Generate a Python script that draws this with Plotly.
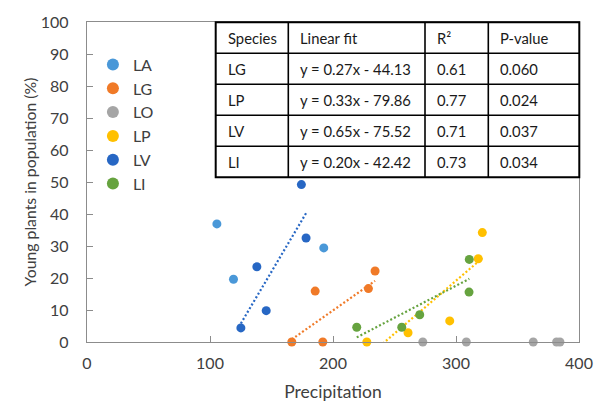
import plotly.graph_objects as go

# ---------------- data ----------------
species = ["LA", "LG", "LO", "LP", "LV", "LI"]
colors = ["#4A98D8", "#F07A28", "#A5A5A5", "#FFC000", "#2767C4", "#66A33F"]

la_x = [105.6, 119.1, 192.5]
la_y = [36.9, 19.6, 29.4]
lg_x = [166.5, 191.7, 185.5, 228.8, 234.2]
lg_y = [0.0, 0.0, 15.9, 16.7, 22.2]
lo_x = [273.0, 308.4, 362.8, 381.8, 384.5]
lo_y = [0.0, 0.0, 0.0, 0.0, 0.0]
lp_x = [227.5, 261.0, 294.9, 318.1, 321.4]
lp_y = [0.0, 2.9, 6.6, 26.0, 34.2]
lv_x = [125.1, 138.1, 145.7, 174.3, 178.1]
lv_y = [4.4, 23.5, 9.8, 49.2, 32.5]
li_x = [219.3, 255.9, 270.5, 310.6, 310.8]
li_y = [4.6, 4.6, 8.5, 15.6, 25.8]

# table of linear fits
fit_species = ["LG", "LP", "LV", "LI"]
fit_slope = [0.27, 0.33, 0.65, 0.20]
fit_intercept = [-44.13, -79.86, -75.52, -42.42]
fit_r2 = ["0.61", "0.77", "0.71", "0.73"]
fit_p = ["0.060", "0.024", "0.037", "0.034"]
table_header = ["Species", "Linear fit", "R²", "P-value"]

x_title = "Precipitation"
y_title = "Young plants in population (%)"

# ---------------- figure ----------------
FONT = "Lato, 'Open Sans', sans-serif"
TXT = "#404040"
W, H = 603, 405
ML, MR, MT, MB = 87, 24, 22, 63
PW, PH = W - ML - MR, H - MT - MB

series = {
    "LA": (la_x, la_y), "LG": (lg_x, lg_y), "LO": (lo_x, lo_y),
    "LP": (lp_x, lp_y), "LV": (lv_x, lv_y), "LI": (li_x, li_y),
}
col = dict(zip(species, colors))

fig = go.Figure()

# trendlines first (below markers)
for sp, m, b in zip(fit_species, fit_slope, fit_intercept):
    xs = series[sp][0]
    x0, x1 = min(xs), max(xs)
    fig.add_trace(go.Scatter(
        x=[x0, x1], y=[m * x0 + b, m * x1 + b], mode="lines",
        line=dict(color=col[sp], width=2.2, dash="2px,2.2px"),
        showlegend=False, hoverinfo="skip"))

for sp in species:
    xs, ys = series[sp]
    fig.add_trace(go.Scatter(
        x=xs, y=ys, mode="markers", name=sp,
        marker=dict(color=col[sp], size=9, line=dict(width=0)),
        cliponaxis=False))


def px2x(px):
    return (px - ML) / PW


def py2y(py):
    return (H - MB - py) / PH


# table geometry (pixels)
col_px = [215.7, 288.3, 425.0, 488.3, 579.3]
row_py = [22.3, 53.3, 84.3, 115.3, 146.3, 177.3]

shapes = [dict(type="rect", xref="paper", yref="paper",
               x0=px2x(col_px[0]), x1=px2x(col_px[-1]),
               y0=py2y(row_py[-1]), y1=py2y(row_py[0]),
               fillcolor="white", line=dict(color="black", width=2),
               layer="above")]
for cx in col_px[1:-1]:
    shapes.append(dict(type="line", xref="paper", yref="paper",
                       x0=px2x(cx), x1=px2x(cx),
                       y0=py2y(row_py[-1]), y1=py2y(row_py[0]),
                       line=dict(color="black", width=1.6), layer="above"))
for ry in row_py[1:-1]:
    shapes.append(dict(type="line", xref="paper", yref="paper",
                       x0=px2x(col_px[0]), x1=px2x(col_px[-1]),
                       y0=py2y(ry), y1=py2y(ry),
                       line=dict(color="black", width=1.6), layer="above"))

rows = [table_header] + [
    [s, f"y = {m:.2f}x - {abs(b):.2f}", r, p]
    for s, m, b, r, p in zip(fit_species, fit_slope, fit_intercept, fit_r2, fit_p)
]
annotations = []
for ri, row in enumerate(rows):
    yc = (row_py[ri] + row_py[ri + 1]) / 2
    for ci, txt in enumerate(row):
        annotations.append(dict(
            xref="paper", yref="paper", x=px2x(col_px[ci] + 10), y=py2y(yc),
            xanchor="left", yanchor="middle", text=txt, showarrow=False,
            font=dict(family=FONT, size=14.8, color="#1a1a1a")))

fig.update_layout(
    width=W, height=H,
    margin=dict(l=ML, r=MR, t=MT, b=MB, autoexpand=False),
    paper_bgcolor="white", plot_bgcolor="white",
    font=dict(family=FONT, size=16, color=TXT),
    showlegend=True,
    legend=dict(x=0.012, y=0.92, xanchor="left", yanchor="top",
                bgcolor="rgba(0,0,0,0)", font=dict(size=16, color=TXT),
                itemsizing="constant"),
    shapes=shapes,
    annotations=annotations,
    xaxis=dict(range=[0, 400], dtick=100, tick0=0, showgrid=False, zeroline=False,
               automargin=False,
               showline=True, linecolor="#8c8c8c", linewidth=1.3, mirror=True,
               ticks="inside", ticklen=6, tickcolor="#8c8c8c", tickwidth=1.3,
               ticklabelstandoff=7,
               tickfont=dict(size=16, color=TXT),
               title=dict(text=x_title, font=dict(size=17.5, color=TXT), standoff=14)),
    yaxis=dict(range=[0, 100], dtick=10, tick0=0, showgrid=False, zeroline=False,
               automargin=False,
               showline=True, linecolor="#8c8c8c", linewidth=1.3, mirror=True,
               ticks="inside", ticklen=6, tickcolor="#8c8c8c", tickwidth=1.3,
               ticklabelstandoff=14,
               tickfont=dict(size=16, color=TXT),
               title=dict(text=y_title, font=dict(size=15.8, color=TXT), standoff=0)),
)

fig.write_html("out.html", config={"displayModeBar": False},
               post_script="document.body.style.margin='0';document.body.style.padding='0';")
